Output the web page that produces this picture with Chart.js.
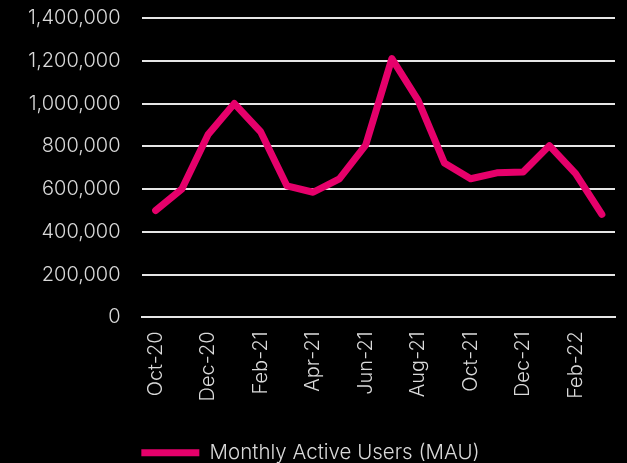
<!DOCTYPE html>
<html>
<head>
<meta charset="utf-8">
<script src="https://cdn.jsdelivr.net/npm/chart.js@4/dist/chart.umd.min.js"></script>
<style>
  html, body { margin: 0; padding: 0; background: #000; }
  #wrap { width: 627px; height: 463px; }
</style>
</head>
<body>
<div id="wrap"><canvas id="chart"></canvas></div>
<script>
// Datos del gráfico
const months = ['Oct-20', 'Nov-20', 'Dec-20', 'Jan-21', 'Feb-21', 'Mar-21', 'Apr-21', 'May-21', 'Jun-21',
    'Jul-21', 'Aug-21', 'Sep-21', 'Oct-21', 'Nov-21', 'Dec-21', 'Jan-22', 'Feb-22', 'Mar-22'];
const mau = [500000, 600000, 855000, 1000000, 868000, 615000, 585000, 648000, 805000,
    1210000, 1015000, 722000, 648000, 676000, 680000, 803000, 672000, 482000];
const yMax = 1400000;
const yStep = 200000;

const textColor = '#d9d9d9';
const gridColor = '#e6e6e6';
const pink = '#e6006b';

Chart.defaults.font.family = 'Inter, "Noto Sans", sans-serif';

const ctx = document.getElementById('chart');
const chart = new Chart(ctx, {
    type: 'line',
    data: {
        labels: months,
        datasets: [{
            label: 'Monthly Active Users (MAU)',
            data: mau,
            borderColor: pink,
            backgroundColor: pink,
            borderWidth: 7,
            borderCapStyle: 'round',
            borderJoinStyle: 'round',
            pointRadius: 0,
            tension: 0,
            fill: false
        }]
    },
    options: {
        responsive: true,
        maintainAspectRatio: false,
        animation: false,
        layout: {
            padding: { left: 6, right: 12, top: 18, bottom: -10 }
        },
        plugins: {
            legend: {
                position: 'bottom',
                labels: {
                    usePointStyle: true,
                    pointStyle: 'line',
                    pointStyleWidth: 58,
                    color: textColor,
                    font: { size: 20.5, weight: 300 },
                    padding: 0
                }
            },
            tooltip: { enabled: false }
        },
        scales: {
            x: {
                offset: true,
                grid: { display: false, drawTicks: false },
                border: { display: true, color: gridColor, width: 2 },
                ticks: {
                    autoSkip: false,
                    maxRotation: 90,
                    minRotation: 90,
                    padding: 14,
                    color: textColor,
                    font: { size: 20, weight: 300 },
                    callback: function (value, index) {
                        return index % 2 === 0 ? months[index] : '';
                    }
                }
            },
            y: {
                min: 0,
                max: yMax,
                grid: { color: gridColor, lineWidth: 2, drawTicks: false },
                border: { display: false },
                ticks: {
                    stepSize: yStep,
                    padding: 22,
                    color: textColor,
                    font: { size: 20, weight: 300 },
                    callback: function (value) {
                        return value.toLocaleString('en-US');
                    }
                }
            }
        }
    }
});

// quitar el relleno extra que añaden las escalas y dejar hueco para la leyenda
chart.options.scales.x.afterFit = function (scale) {
    scale.paddingLeft = 0;
    scale.paddingRight = 0;
    scale.height += 27;
};
chart.options.scales.y.afterFit = function (scale) {
    scale.paddingTop = 0;
    scale.paddingBottom = 0;
};
chart.update();
</script>
</body>
</html>
